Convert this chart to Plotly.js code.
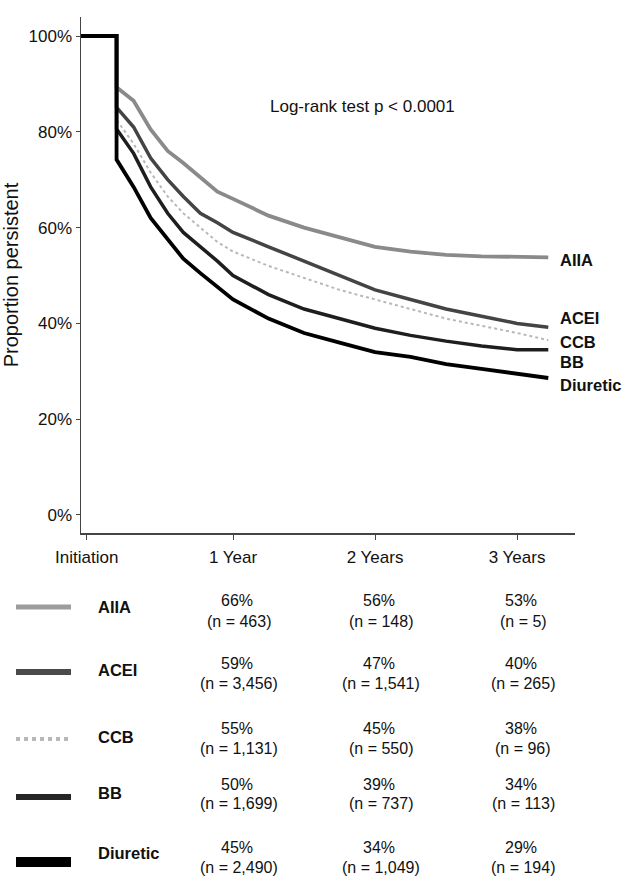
<!DOCTYPE html>
<html>
<head>
<meta charset="utf-8">
<script src="https://cdn.plot.ly/plotly-3.0.1.min.js"></script>
<style>html,body{margin:0;padding:0;background:#fff;}#chart{width:629px;height:887px;}</style>
</head>
<body>
<div id="chart"></div>
<script>
// ---- data (years since start, % persistent) ----
const timeYears = [-0.07, 0.18, 0.18, 0.30, 0.42, 0.54, 0.65, 0.77, 0.89, 1.0, 1.25, 1.5, 1.75, 2.0, 2.25, 2.5, 2.75, 3.0, 3.22];
const aiiaPct     = [100, 100, 89.3, 86.5, 80.5, 76, 73.5, 70.5, 67.5, 66, 62.5, 60, 58, 56, 55, 54.3, 54, 53.8, 53.8];
const aceiPct     = [100, 100, 85.1, 81, 74.5, 70, 66.5, 63, 61, 59, 56, 53, 50, 47, 45, 43, 41.5, 40, 39.2];
const ccbPct      = [100, 100, 82.5, 77.5, 71.5, 66.5, 63, 60, 57, 55, 52, 49.5, 47, 45, 43, 41, 39.5, 38, 36.5];
const bbPct       = [100, 100, 80.6, 75.5, 68.5, 63, 59, 56, 53, 50, 46, 43, 41, 39, 37.5, 36.3, 35.3, 34.5, 34.5];
const diureticPct = [100, 100, 74.2, 68.5, 62, 57.5, 53.5, 50.5, 47.5, 45, 41, 38, 36, 34, 33, 31.5, 30.5, 29.5, 28.6];

const seriesNames = ["AIIA", "ACEI", "CCB", "BB", "Diuretic"];
const endLabelPct = [53.2, 41.1, 36.1, 31.9, 27.1];

const yTickVals = [0, 20, 40, 60, 80, 100];
const yTickText = ["0%", "20%", "40%", "60%", "80%", "100%"];
const xTickVals = [-0.03, 1, 2, 3];
const xTickText = ["Initiation", "1 Year", "2 Years", "3 Years"];

// table below the chart
const tableYears = [1, 2, 3];
const pctYear1 = ["66%", "59%", "55%", "50%", "45%"];
const nYear1   = ["463", "3,456", "1,131", "1,699", "2,490"];
const pctYear2 = ["56%", "47%", "45%", "39%", "34%"];
const nYear2   = ["148", "1,541", "550", "737", "1,049"];
const pctYear3 = ["53%", "40%", "38%", "34%", "29%"];
const nYear3   = ["5", "265", "96", "113", "194"];

// ---- styles ----
const seriesData = [aiiaPct, aceiPct, ccbPct, bbPct, diureticPct];
const lineStyles = [
  {color: "#8a8a8a", width: 3.8, dash: "solid"},
  {color: "#444444", width: 3.5, dash: "solid"},
  {color: "#b8b8b8", width: 2, dash: "dot"},
  {color: "#1e1e1e", width: 3.5, dash: "solid"},
  {color: "#000000", width: 3.8, dash: "solid"}
];
const swatchStyles = [
  {color: "#9c9c9c", width: 5, dash: "solid"},
  {color: "#4a4a4a", width: 6, dash: "solid"},
  {color: "#b8b8b8", width: 4, dash: "dot"},
  {color: "#262626", width: 6, dash: "solid"},
  {color: "#000000", width: 10, dash: "solid"}
];
const rowNameY   = [607, 670, 737, 793, 853];
const rowSwatchY = [607, 672, 739, 797, 862];
const rowPctY    = [600, 663, 728, 784, 847];
const rowNY      = [621, 683, 748, 803, 867];

const FONT = "Liberation Sans, Arial, sans-serif";
const plotTop = 17, plotBottom = 533, plotLeft = 81, plotRight = 575;
const py = p => (plotBottom - p) / (plotBottom - plotTop);
const px = p => (p - plotLeft) / (plotRight - plotLeft);

const traces = seriesData.map((ys, i) => ({
  x: timeYears, y: ys, type: "scatter", mode: "lines",
  name: seriesNames[i], line: Object.assign({shape: "linear"}, lineStyles[i]),
  hoverinfo: "skip", showlegend: false
}));

const annotations = [];
annotations.push({x: 1.91, y: 85.2, xref: "x", yref: "y", text: "Log-rank test p &lt; 0.0001",
  showarrow: false, font: {family: FONT, size: 17, color: "#111"}});
seriesNames.forEach((nm, i) => {
  annotations.push({x: 3.29, y: endLabelPct[i], xref: "x", yref: "y", text: "<b>" + nm + "</b>",
    xanchor: "left", showarrow: false, font: {family: FONT, size: 16.5, color: "#111"}});
});
const pctCols = [pctYear1, pctYear2, pctYear3];
const nCols = [nYear1, nYear2, nYear3];
const shapes = [];
seriesNames.forEach((nm, i) => {
  annotations.push({x: px(96), y: py(rowNameY[i]), xref: "paper", yref: "paper", text: "<b>" + nm + "</b>",
    xanchor: "left", yanchor: "middle", showarrow: false, font: {family: FONT, size: 16.5, color: "#111"}});
  tableYears.forEach((yr, c) => {
    annotations.push({x: yr, y: py(rowPctY[i]), xref: "x", yref: "paper", text: pctCols[c][i], xshift: 4,
      yanchor: "middle", showarrow: false, font: {family: FONT, size: 16, color: "#111"}});
    annotations.push({x: yr, y: py(rowNY[i]), xref: "x", yref: "paper", text: "(n = " + nCols[c][i] + ")", xshift: 6,
      yanchor: "middle", showarrow: false, font: {family: FONT, size: 16, color: "#111"}});
  });
  shapes.push({type: "line", xref: "paper", yref: "paper", x0: px(16), x1: px(71),
    y0: py(rowSwatchY[i]), y1: py(rowSwatchY[i]), line: swatchStyles[i]});
});

const layout = {
  width: 629, height: 887,
  margin: {l: plotLeft, r: 629 - plotRight, t: plotTop, b: 887 - plotBottom},
  paper_bgcolor: "#fff", plot_bgcolor: "#fff",
  font: {family: FONT, size: 16, color: "#111"},
  xaxis: {range: [-0.0704, 3.408], tickvals: xTickVals, ticktext: xTickText, showgrid: false, zeroline: false,
    showline: true, linecolor: "#444", linewidth: 1.5, ticks: "outside", ticklen: 5, tickcolor: "#444",
    ticklabelstandoff: 3, tickfont: {family: FONT, size: 17, color: "#111"}},
  yaxis: {range: [-3.76, 103.97], tickvals: yTickVals, ticktext: yTickText, showgrid: false, zeroline: false,
    showline: true, linecolor: "#444", linewidth: 1.5, ticks: "outside", ticklen: 4, tickcolor: "#444",
    tickfont: {family: FONT, size: 17, color: "#111"},
    title: {text: "Proportion persistent", font: {family: FONT, size: 20, color: "#111"}, standoff: 6}},
  annotations: annotations,
  shapes: shapes
};

Plotly.newPlot("chart", traces, layout, {displayModeBar: false, staticPlot: true});
</script>
</body>
</html>
